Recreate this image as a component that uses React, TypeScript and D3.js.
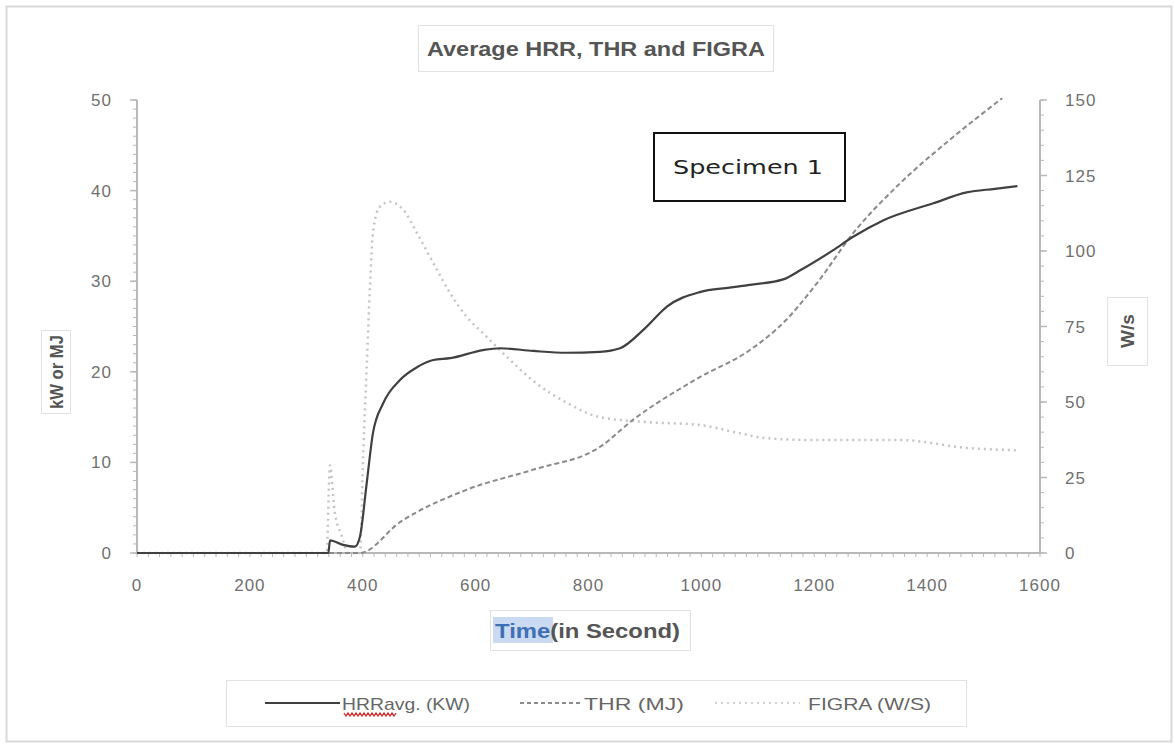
import React from "react";
import * as d3 from "d3";

const hrrTime = [0, 100, 200, 300, 339, 342, 365, 386, 395, 407, 418, 436, 466, 496, 525, 555, 613, 643, 702, 760, 820, 856, 900, 939, 997, 1050, 1086, 1145, 1175, 1233, 1269, 1322, 1411, 1470, 1520, 1560];
const hrrValues = [0, 0, 0, 0, 0, 1.4, 0.9, 0.7, 1.8, 7.7, 13.2, 16.5, 19.1, 20.5, 21.3, 21.5, 22.4, 22.6, 22.3, 22.1, 22.2, 22.6, 24.8, 27.2, 28.8, 29.3, 29.6, 30.2, 31.2, 33.4, 34.9, 36.7, 38.6, 39.8, 40.2, 40.5];

const thrTime = [0, 100, 200, 300, 395, 466, 585, 702, 820, 879, 997, 1086, 1145, 1205, 1269, 1352, 1440, 1533];
const thrValues = [0, 0, 0, 0, 0, 3.4, 7.0, 9.2, 11.7, 14.7, 19.4, 22.4, 25.4, 29.8, 35.3, 40.8, 45.6, 50.2];

const figraTime = [0, 100, 200, 300, 336, 342, 350, 362, 375, 395, 401, 407, 413, 418, 430, 448, 472, 496, 525, 555, 585, 613, 655, 702, 762, 820, 900, 997, 1060, 1116, 1200, 1352, 1470, 1560];
const figraValues = [0, 0, 0, 0, 0, 29, 14, 6, 0, 0, 34, 61.6, 89, 106, 114.6, 116.3, 113.6, 106, 96, 86, 78, 72.8, 65, 57, 49.7, 45, 43.4, 42.4, 40, 38, 37.4, 37.4, 34.8, 34];

const xTicks = [0, 200, 400, 600, 800, 1000, 1200, 1400, 1600];
const leftTicks = [0, 10, 20, 30, 40, 50];
const rightTicks = [0, 25, 50, 75, 100, 125, 150];

const W = 1174;
const H = 744;
const x0 = 137, x1 = 1040, yTop = 100, yBot = 553;
const FONT = "'Liberation Sans', Arial, sans-serif";

export default function App() {
  const x = d3.scaleLinear().domain([0, 1600]).range([x0, x1]);
  const yL = d3.scaleLinear().domain([0, 50]).range([yBot, yTop]);
  const yR = d3.scaleLinear().domain([0, 150]).range([yBot, yTop]);

  const mk = (ts: number[], vs: number[], y: d3.ScaleLinear<number, number>) =>
    d3.line<number>().x((_, i) => x(ts[i])).y((v) => y(v)).curve(d3.curveMonotoneX)(vs) || "";

  const hrrPath = mk(hrrTime, hrrValues, yL);
  const thrPath = mk(thrTime, thrValues, yL);
  const figraPath = mk(figraTime, figraValues, yR);

  const xMinor = d3.range(0, 1601, 20);
  const lMinor = d3.range(0, 50.01, 1);
  const rMinor = d3.range(0, 150.01, 5);

  const axisCol = "#b8b8b8";
  const labCol = "#707070";

  // wavy underline under "HRRavg."
  const wave = d3.range(0, 27).map((i) => [344 + i * 2, i % 2 === 0 ? 713 : 716] as [number, number]);
  const wavePath = d3.line()(wave) || "";

  return (
    <svg width={W} height={H} style={{ position: "absolute", left: 0, top: 0, background: "#fff" }}>
      <rect x={6.5} y={6.5} width={1165} height={735} fill="#fff" stroke="#d9d9d9" strokeWidth={2} />

      {/* title */}
      <rect x={418.5} y={25.5} width={355} height={46} fill="#fff" stroke="#e2e2e2" />
      <text x={427} y={56} textLength={338} lengthAdjust="spacingAndGlyphs" fontFamily={FONT} fontSize={21} fontWeight="bold" fill="#555">
        Average HRR, THR and FIGRA
      </text>

      {/* x axis */}
      <line x1={x0} x2={x1} y1={yBot} y2={yBot} stroke={axisCol} strokeWidth={2} />
      {xMinor.map((t) => (
        <line key={"xm" + t} x1={x(t)} x2={x(t)} y1={yBot} y2={yBot + 4} stroke={axisCol} />
      ))}
      {xTicks.map((t) => (
        <text key={"xt" + t} x={x(t)} y={yBot + 38} textAnchor="middle" fontFamily={FONT} fontSize={17} letterSpacing={1} fill={labCol}>
          {t}
        </text>
      ))}

      {/* left axis */}
      <line x1={x0} x2={x0} y1={yTop} y2={yBot} stroke={axisCol} strokeWidth={2} />
      {lMinor.map((v) => (
        <line key={"lm" + v} x1={x0 - 4} x2={x0} y1={yL(v)} y2={yL(v)} stroke={axisCol} />
      ))}
      {leftTicks.map((v) => (
        <g key={"lt" + v}>
          <line x1={x0 - 7} x2={x0} y1={yL(v)} y2={yL(v)} stroke={axisCol} strokeWidth={1.5} />
          <text x={x0 - 25} y={yL(v) + 6} textAnchor="end" fontFamily={FONT} fontSize={17} letterSpacing={1} fill={labCol}>
            {v}
          </text>
        </g>
      ))}

      {/* right axis */}
      <line x1={x1} x2={x1} y1={yTop} y2={yBot} stroke={axisCol} strokeWidth={2} />
      {rMinor.map((v) => (
        <line key={"rm" + v} x1={x1} x2={x1 + 4} y1={yR(v)} y2={yR(v)} stroke={axisCol} />
      ))}
      {rightTicks.map((v) => (
        <g key={"rt" + v}>
          <line x1={x1} x2={x1 + 7} y1={yR(v)} y2={yR(v)} stroke={axisCol} strokeWidth={1.5} />
          <text x={x1 + 25} y={yR(v) + 6} textAnchor="start" fontFamily={FONT} fontSize={17} letterSpacing={1} fill={labCol}>
            {v}
          </text>
        </g>
      ))}

      {/* axis titles */}
      <rect x={41.5} y={330.5} width={29} height={83} fill="#fff" stroke="#e2e2e2" />
      <text transform="translate(63,372) rotate(-90)" textAnchor="middle" textLength={74} lengthAdjust="spacingAndGlyphs" fontFamily={FONT} fontSize={18} fontWeight="bold" fill="#555">
        kW or MJ
      </text>
      <rect x={1107.5} y={297.5} width={40} height={68} fill="#fff" stroke="#e2e2e2" />
      <text transform="translate(1134,331) rotate(-90)" textAnchor="middle" fontFamily={FONT} fontSize={19} fontWeight="bold" fill="#555">
        W/s
      </text>
      <rect x={490.5} y={610.5} width={200} height={40} fill="#fff" stroke="#e2e2e2" />
      <rect x={493} y={617} width={60} height={26} fill="#c9daf2" />
      <text x={495} y={638} textLength={185} lengthAdjust="spacingAndGlyphs" fontFamily={FONT} fontSize={20} fontWeight="bold" fill="#555">
        <tspan fill="#3f6fb5">Time</tspan>(in Second)
      </text>

      {/* series */}
      <path d={figraPath} fill="none" stroke="#c4c4c4" strokeWidth={2.5} strokeDasharray="2 4" />
      <path d={thrPath} fill="none" stroke="#8a8a8a" strokeWidth={2} strokeDasharray="5 3" />
      <path d={hrrPath} fill="none" stroke="#404040" strokeWidth={2.2} />

      {/* specimen box */}
      <rect x={654} y={133} width={191} height={68} fill="#fff" stroke="#111" strokeWidth={2} />
      <text x={673} y={174} textLength={150} lengthAdjust="spacingAndGlyphs" fontFamily="'DejaVu Sans', sans-serif" fontSize={19} fill="#222">
        Specimen  1
      </text>

      {/* legend */}
      <rect x={226.5} y={680.5} width={740} height={46} fill="#fff" stroke="#e2e2e2" />
      <line x1={265} x2={340} y1={703} y2={703} stroke="#404040" strokeWidth={2} />
      <text x={342} y={710} textLength={128} lengthAdjust="spacingAndGlyphs" fontFamily={FONT} fontSize={17} fill="#666">
        HRRavg. (KW)
      </text>
      <path d={wavePath} fill="none" stroke="#d03030" strokeWidth={1.3} />
      <line x1={520} x2={580} y1={703} y2={703} stroke="#8a8a8a" strokeWidth={2} strokeDasharray="4 3" />
      <text x={584} y={710} textLength={100} lengthAdjust="spacingAndGlyphs" fontFamily={FONT} fontSize={17} fill="#666">THR (MJ)</text>
      <line x1={715} x2={800} y1={703} y2={703} stroke="#d0d0d0" strokeWidth={2} strokeDasharray="2 4" />
      <text x={808} y={710} textLength={123} lengthAdjust="spacingAndGlyphs" fontFamily={FONT} fontSize={17} fill="#666">FIGRA (W/S)</text>
    </svg>
  );
}
